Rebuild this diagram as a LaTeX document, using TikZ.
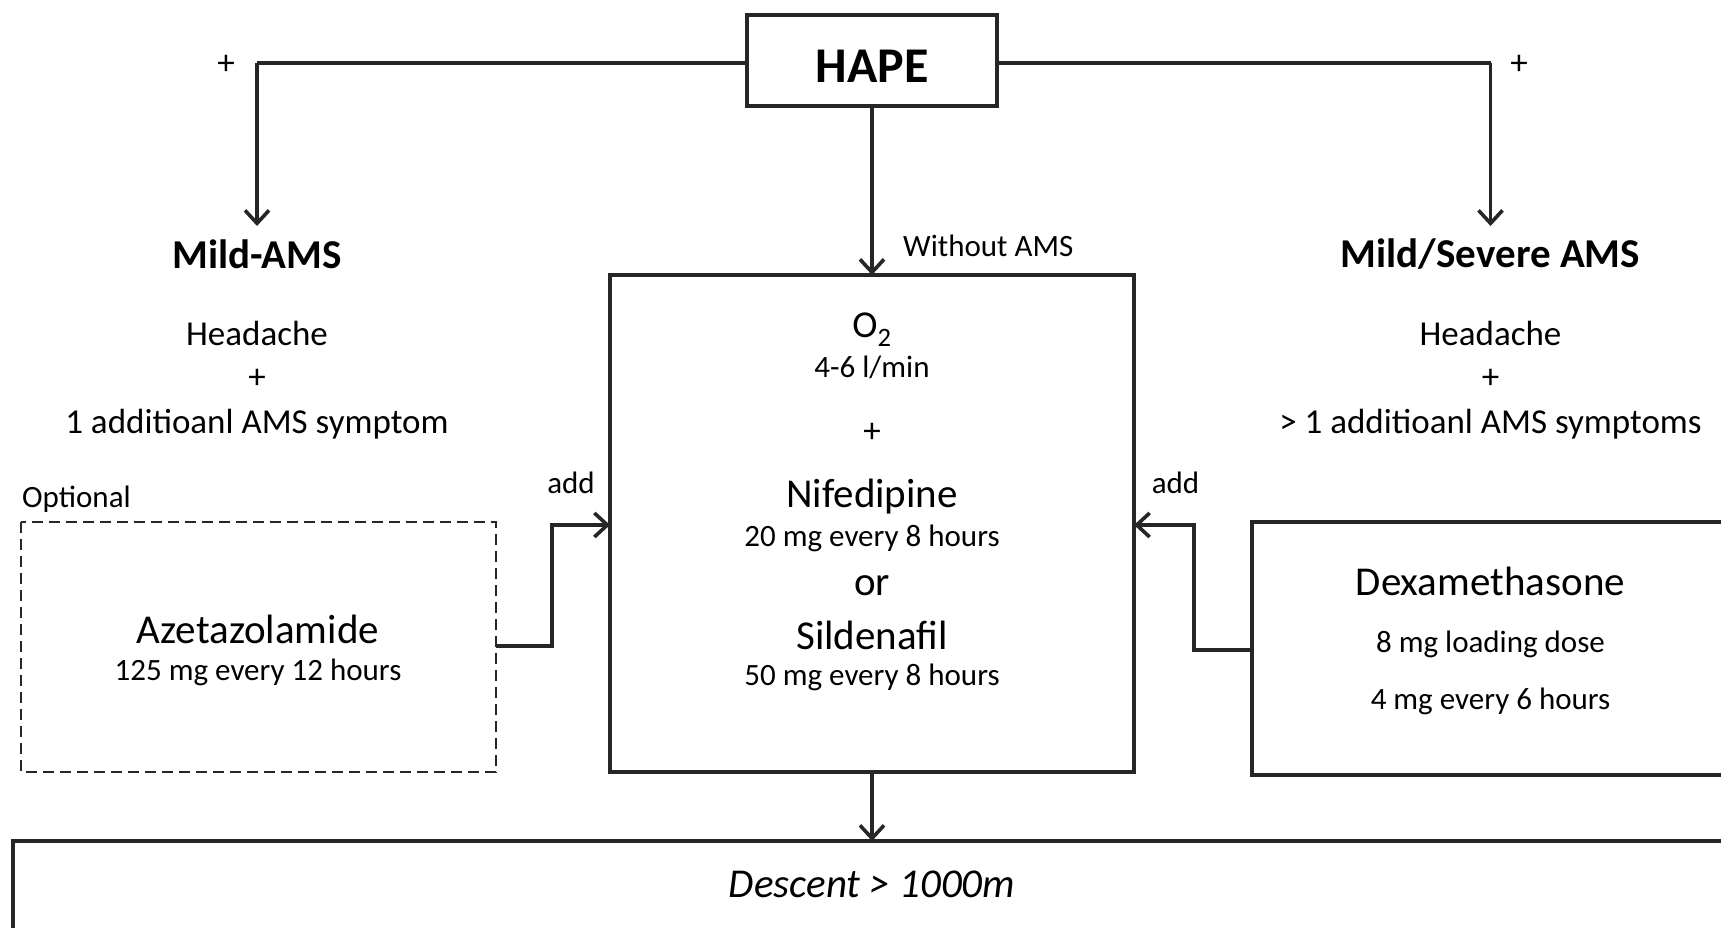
\documentclass[tikz,border=0pt]{standalone}
\usepackage{fontspec}
\setmainfont{Carlito}
\usetikzlibrary{arrows.meta}
\newcommand{\fs}[1]{\fontsize{#1}{#1}\selectfont}
\begin{document}
\begin{tikzpicture}[x=1pt,y=-1pt,
  box/.style={draw=black!85, line width=3.1pt},
  dbox/.style={draw=black!85, line width=2.8pt, dash pattern=on 11pt off 6pt},
  conn/.style={draw=black!85, line width=3.1pt},
  arr/.style={conn, -{Straight Barb[length=13pt,width=24pt,line width=3.6pt]}},
  txt/.style={inner sep=0pt, text=black},
  big/.style={txt, font=\fs{41}},
  bigb/.style={txt, font=\fs{41}\bfseries},
  mid/.style={txt, font=\fs{35}},
  sml/.style={txt, font=\fs{31}}]
\useasboundingbox (0,0) rectangle (1721,928);
\clip (0,0) rectangle (1721,928);
\fill[white] (0,0) rectangle (1721,928);

% HAPE
\node[box, minimum width=250pt, minimum height=91pt, inner sep=0pt] (hape) at (872,60.5) {};
\node[txt, font=\fs{50}\bfseries] (hapet) at (872,66) {HAPE};

% side branch heads
\coordinate (lc) at (257,63);
\coordinate (rc) at (1490.5,63);
\node[mid] (lplus) at (226,65) {+};
\node[mid] (rplus) at (1519,65) {+};

\node[bigb] (mild) at (257,254) {Mild-AMS};
\node[bigb] (severe) at (1490.5,254) {Mild/Severe AMS};
\coordinate (ltip) at (257,226);
\coordinate (rtip) at (1490.5,226);

\draw[conn] (hape.west |- lc) -- (lc);
\draw[arr] (lc) -- (ltip);
\draw[conn] (hape.east |- rc) -- (rc);
\draw[arr] (rc) -- (rtip);

\node[mid] (lh) at (257,333) {Headache};
\node[mid] (lp) at (257,379) {+};
\node[mid] (ls) at (257,424) {1 additioanl AMS symptom};
\node[mid] (rh) at (1490.5,333) {Headache};
\node[mid] (rp) at (1490.5,379) {+};
\node[mid] (rs) at (1490.5,424) {> 1 additioanl AMS symptoms};

% main box
\draw[box] (610,275) rectangle (1134,772);
\coordinate (mtop) at (872,275);
\coordinate (mbot) at (872,772);
\coordinate (mleft) at (610,525);
\coordinate (mright) at (1134,525);
\draw[arr] (hape.south) -- (mtop);
\node[sml, anchor=west] (without) at (903,246) {Without AMS};

\node[txt, font=\fs{38}] (o2) at (872,330) {O\textsubscript{2}};
\node[sml] (flow) at (872,367) {4-6 l/min};
\node[mid] (plus) at (872,433) {+};
\node[big] (nif) at (872,497) {Nifedipine};
\node[sml] (nifd) at (872,538) {20 mg every 8 hours};
\node[big] (or) at (872,586) {or};
\node[big] (sil) at (872,635) {Sildenafil};
\node[sml] (sild) at (872,677) {50 mg every 8 hours};

% optional box
\node[sml, anchor=west] (opt) at (22,499) {Optional};
\draw[dbox] (21,522) rectangle (496,772);
\coordinate (aout) at (496,646);
\node[big] (aze) at (258,629) {Azetazolamide};
\node[sml] (azed) at (258,672) {125 mg every 12 hours};
\draw[arr] (aout) -- (552,646) -- (552,525) -- (mleft);
\node[sml] (addl) at (571,483) {add};

% dexamethasone box
\draw[box] (1252,522) rectangle (1740,775);
\coordinate (dout) at (1252,650);
\node[big] (dex) at (1490.5,581) {Dexamethasone};
\node[sml] (dex1) at (1490.5,644) {8 mg loading dose};
\node[sml] (dex2) at (1490.5,701) {4 mg every 6 hours};
\draw[arr] (dout) -- (1194,650) -- (1194,525) -- (mright);
\node[sml] (addr) at (1175.5,483) {add};

% descent
\draw[box] (13,841) rectangle (1740,960);
\coordinate (dtop) at (872,841);
\draw[arr] (mbot) -- (dtop);
\node[txt, font=\fs{41}\itshape] (desc) at (872,884) {Descent > 1000m};
\end{tikzpicture}
\end{document}
